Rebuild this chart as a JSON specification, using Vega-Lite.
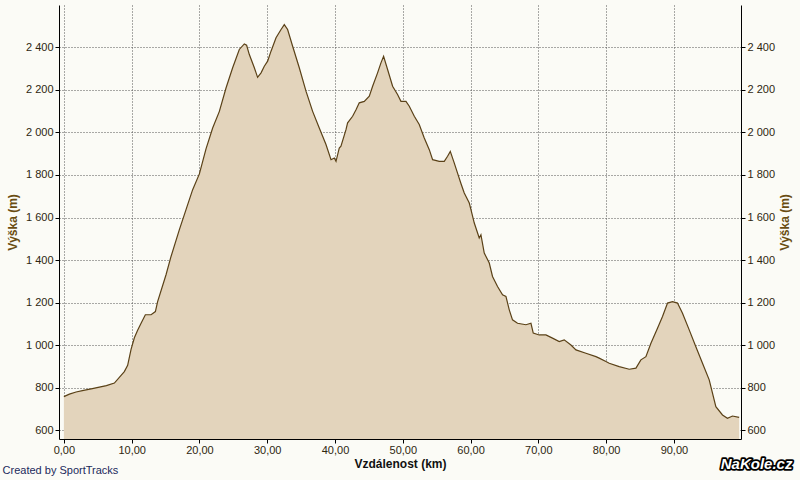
{
  "$schema": "https://vega.github.io/schema/vega-lite/v6.json",
  "autosize": "none",
  "width": 682,
  "height": 434,
  "padding": {"left": 59, "top": 5, "right": 59, "bottom": 41},
  "background": "#fbfbf6",
  "config": {
    "view": {"stroke": null},
    "font": "Liberation Sans",
    "axis": {
      "domainColor": "#000000",
      "domainWidth": 1,
      "tickColor": "#000000",
      "tickSize": 4,
      "labelFont": "Liberation Sans",
      "labelFontSize": 11,
      "labelColor": "#2e2610",
      "titleFont": "Liberation Sans",
      "titleFontSize": 12,
      "titleFontWeight": "bold",
      "gridColor": "#555555",
      "gridDash": [1, 2],
      "gridWidth": 1,
      "gridOpacity": 1
    }
  },
  "data": {
    "values": [
      {"km": 0.0, "elev": 758}, {"km": 0.81, "elev": 770}, {"km": 1.8, "elev": 780},
      {"km": 2.73, "elev": 786}, {"km": 4.2, "elev": 796}, {"km": 6.27, "elev": 810},
      {"km": 7.45, "elev": 822}, {"km": 8.44, "elev": 858}, {"km": 8.92, "elev": 876},
      {"km": 9.41, "elev": 905}, {"km": 9.91, "elev": 980}, {"km": 10.4, "elev": 1035},
      {"km": 10.88, "elev": 1070}, {"km": 11.39, "elev": 1103}, {"km": 12.02, "elev": 1143},
      {"km": 12.86, "elev": 1143}, {"km": 13.5, "elev": 1158}, {"km": 13.83, "elev": 1205},
      {"km": 15.07, "elev": 1331}, {"km": 15.81, "elev": 1417}, {"km": 17.04, "elev": 1543},
      {"km": 18.02, "elev": 1637}, {"km": 19.0, "elev": 1731}, {"km": 19.99, "elev": 1805},
      {"km": 20.97, "elev": 1923}, {"km": 21.95, "elev": 2021}, {"km": 22.94, "elev": 2099},
      {"km": 23.92, "elev": 2209}, {"km": 24.9, "elev": 2304}, {"km": 25.88, "elev": 2390},
      {"km": 26.62, "elev": 2416}, {"km": 26.96, "elev": 2410}, {"km": 27.36, "elev": 2366},
      {"km": 28.1, "elev": 2304}, {"km": 28.58, "elev": 2259}, {"km": 29.09, "elev": 2280},
      {"km": 29.57, "elev": 2311}, {"km": 30.06, "elev": 2335}, {"km": 30.56, "elev": 2382},
      {"km": 31.3, "elev": 2445}, {"km": 32.04, "elev": 2484}, {"km": 32.52, "elev": 2507},
      {"km": 33.01, "elev": 2484}, {"km": 33.75, "elev": 2405}, {"km": 34.73, "elev": 2304},
      {"km": 35.72, "elev": 2194}, {"km": 36.7, "elev": 2099}, {"km": 37.68, "elev": 2021},
      {"km": 38.67, "elev": 1943}, {"km": 39.41, "elev": 1872}, {"km": 39.9, "elev": 1880},
      {"km": 40.15, "elev": 1864}, {"km": 40.63, "elev": 1927}, {"km": 40.88, "elev": 1935},
      {"km": 41.62, "elev": 2013}, {"km": 41.86, "elev": 2045}, {"km": 42.6, "elev": 2076},
      {"km": 43.1, "elev": 2107}, {"km": 43.58, "elev": 2139}, {"km": 44.32, "elev": 2146},
      {"km": 45.06, "elev": 2170}, {"km": 45.55, "elev": 2217}, {"km": 46.28, "elev": 2280},
      {"km": 46.78, "elev": 2327}, {"km": 47.17, "elev": 2358}, {"km": 47.76, "elev": 2296},
      {"km": 48.5, "elev": 2217}, {"km": 49.23, "elev": 2178}, {"km": 49.73, "elev": 2146},
      {"km": 50.47, "elev": 2146}, {"km": 50.96, "elev": 2123}, {"km": 51.7, "elev": 2076},
      {"km": 52.43, "elev": 2037}, {"km": 53.17, "elev": 1974}, {"km": 53.91, "elev": 1919},
      {"km": 54.4, "elev": 1872}, {"km": 55.38, "elev": 1864}, {"km": 56.12, "elev": 1864},
      {"km": 56.61, "elev": 1888}, {"km": 57.01, "elev": 1911}, {"km": 57.6, "elev": 1856},
      {"km": 58.08, "elev": 1809}, {"km": 58.58, "elev": 1760}, {"km": 59.07, "elev": 1715},
      {"km": 59.81, "elev": 1668}, {"km": 60.06, "elev": 1637}, {"km": 60.55, "elev": 1574},
      {"km": 61.28, "elev": 1504}, {"km": 61.53, "elev": 1519}, {"km": 62.02, "elev": 1433},
      {"km": 62.76, "elev": 1386}, {"km": 63.24, "elev": 1323}, {"km": 63.98, "elev": 1276},
      {"km": 64.72, "elev": 1237}, {"km": 65.22, "elev": 1229}, {"km": 65.71, "elev": 1166},
      {"km": 66.19, "elev": 1119}, {"km": 66.93, "elev": 1103}, {"km": 68.17, "elev": 1096},
      {"km": 68.91, "elev": 1103}, {"km": 69.25, "elev": 1057}, {"km": 70.13, "elev": 1048},
      {"km": 71.12, "elev": 1048}, {"km": 72.09, "elev": 1033}, {"km": 73.08, "elev": 1017},
      {"km": 73.82, "elev": 1025}, {"km": 74.81, "elev": 1001}, {"km": 75.55, "elev": 978},
      {"km": 77.02, "elev": 962}, {"km": 78.5, "elev": 946}, {"km": 78.98, "elev": 939},
      {"km": 79.97, "elev": 923}, {"km": 80.46, "elev": 915}, {"km": 81.93, "elev": 899},
      {"km": 83.41, "elev": 887}, {"km": 84.4, "elev": 892}, {"km": 85.13, "elev": 931},
      {"km": 85.87, "elev": 946}, {"km": 86.61, "elev": 1009}, {"km": 87.58, "elev": 1080},
      {"km": 88.32, "elev": 1135}, {"km": 89.06, "elev": 1198}, {"km": 89.79, "elev": 1205},
      {"km": 90.53, "elev": 1198}, {"km": 91.27, "elev": 1150}, {"km": 92.26, "elev": 1072},
      {"km": 93.24, "elev": 993}, {"km": 94.22, "elev": 915}, {"km": 95.21, "elev": 837},
      {"km": 96.19, "elev": 711}, {"km": 97.17, "elev": 672}, {"km": 97.9, "elev": 656},
      {"km": 98.64, "elev": 667}, {"km": 99.63, "elev": 661}
    ]
  },
  "layer": [
    {
      "mark": {"type": "area", "color": "#e3d4bc", "opacity": 1},
      "encoding": {
        "x": {
          "field": "km", "type": "quantitative",
          "scale": {"domain": [-0.72, 99.9], "nice": false, "zero": false},
          "axis": {
            "title": "Vzdálenost (km)",
            "titleColor": "#111111",
            "titlePadding": 3,
            "values": [0, 10, 20, 30, 40, 50, 60, 70, 80, 90],
            "labelExpr": "replace(format(datum.value, '.2f'), '.', ',')",
            "labelPadding": 1,
            "grid": true
          }
        },
        "y": {
          "field": "elev", "type": "quantitative",
          "scale": {"domain": [559, 2599], "nice": false, "zero": false},
          "axis": {
            "orient": "left",
            "title": "Výška (m)",
            "titleColor": "#6a4d12",
            "titlePadding": 6,
            "values": [600, 800, 1000, 1200, 1400, 1600, 1800, 2000, 2200, 2400],
            "labelExpr": "replace(format(datum.value, ','), ',', ' ')",
            "labelPadding": 2,
            "grid": true
          }
        },
        "y2": {"datum": 559}
      }
    },
    {
      "mark": {"type": "line", "color": "#5a4117", "strokeWidth": 1.2},
      "encoding": {
        "x": {"field": "km", "type": "quantitative", "title": "Vzdálenost (km)"},
        "y": {
          "field": "elev", "type": "quantitative",
          "scale": {"domain": [559, 2599], "nice": false, "zero": false},
          "axis": {
            "orient": "right",
            "title": "Výška (m)",
            "titleColor": "#6a4d12",
            "titleAngle": 270,
            "titleBaseline": "top",
            "titlePadding": 5,
            "values": [600, 800, 1000, 1200, 1400, 1600, 1800, 2000, 2200, 2400],
            "labelExpr": "replace(format(datum.value, ','), ',', ' ')",
            "labelPadding": 2,
            "grid": false
          }
        }
      }
    },
    {
      "data": {"values": [{"label": "Created by SportTracks"}]},
      "mark": {"type": "text", "align": "left", "baseline": "middle", "font": "Liberation Sans", "fontSize": 11, "fontWeight": "normal", "fill": "#1c2a5c"},
      "encoding": {
        "text": {"field": "label"},
        "x": {"datum": -9.04, "type": "quantitative", "title": "Vzdálenost (km)"},
        "y": {"datum": 409, "type": "quantitative", "scale": {"domain": [559, 2599], "nice": false, "zero": false}, "axis": null}
      }
    },
    {
      "data": {"values": [{"label": "NaKole.cz"}]},
      "mark": {"type": "text", "align": "center", "baseline": "middle", "font": "Liberation Sans", "fontSize": 15, "fontWeight": "bold", "fontStyle": "italic", "fill": "#000000", "stroke": "#000000", "strokeWidth": 3.5, "strokeJoin": "round"},
      "encoding": {
        "text": {"field": "label"},
        "x": {"datum": 102.2, "type": "quantitative", "title": "Vzdálenost (km)"},
        "y": {"datum": 442, "type": "quantitative", "scale": {"domain": [559, 2599], "nice": false, "zero": false}, "axis": null}
      }
    },
    {
      "data": {"values": [{"label": "NaKole.cz"}]},
      "mark": {"type": "text", "align": "center", "baseline": "middle", "font": "Liberation Sans", "fontSize": 15, "fontWeight": "bold", "fontStyle": "italic", "fill": "#ffffff"},
      "encoding": {
        "text": {"field": "label"},
        "x": {"datum": 102.2, "type": "quantitative", "title": "Vzdálenost (km)"},
        "y": {"datum": 442, "type": "quantitative", "scale": {"domain": [559, 2599], "nice": false, "zero": false}, "axis": null}
      }
    }
  ],
  "resolve": {"scale": {"y": "independent"}, "axis": {"y": "independent"}}
}
